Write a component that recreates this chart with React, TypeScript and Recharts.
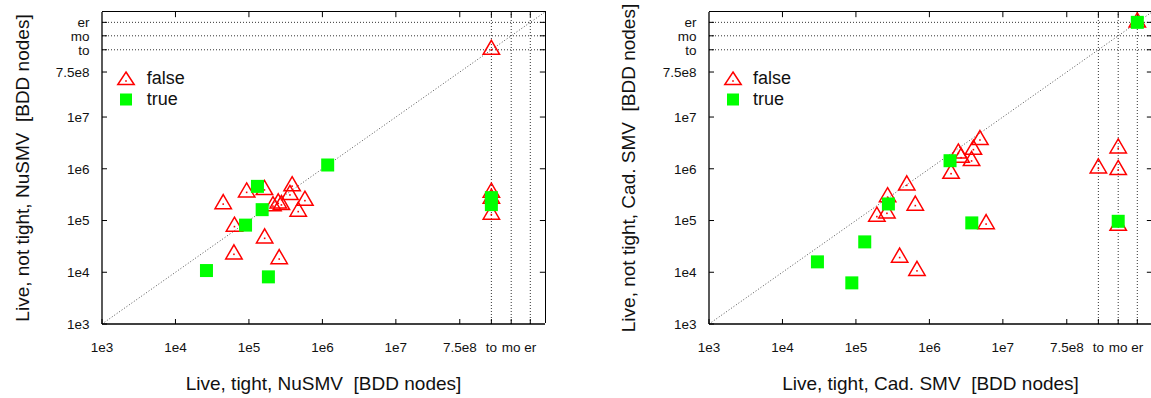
import React from 'react';
import { ScatterChart, Scatter, XAxis, YAxis, ReferenceLine, Legend } from 'recharts';

// Axis positions (log10 of BDD nodes; to / mo / er are special categories)
const TO = 8.3;
const MO = 8.57;
const ER = 8.83;
const AXIS_MIN = 3;
const AXIS_MAX = 9.03;
const tickValues = [3, 4, 5, 6, 7, 7.87, TO, MO, ER];
const tickLabels = ['1e3', '1e4', '1e5', '1e6', '1e7', '7.5e8', 'to', 'mo', 'er'];
const specialValues = [TO, MO, ER];
const innerTicks = [4, 5, 6, 7, 7.87, TO, MO, ER];

// Left plot: NuSMV (values = log10 BDD nodes)
const nusmvFalseX = [4.65, 4.969, 5.211, 5.588, 5.558, 5.762, 5.327, 5.399, 5.442, 5.671, 4.803, 5.214, 4.796, 5.412, TO, TO, TO, TO];
const nusmvFalseY = [5.317, 5.544, 5.591, 5.664, 5.494, 5.384, 5.278, 5.332, 5.301, 5.172, 4.882, 4.656, 4.347, 4.255, TO, 5.539, 5.423, 5.114];
const nusmvTrueX = [6.072, 5.116, 5.18, 4.954, 4.422, 5.265, TO, TO];
const nusmvTrueY = [6.073, 5.66, 5.21, 4.911, 4.033, 3.911, 5.442, 5.307];

// Right plot: Cadence SMV
const cadFalseX = [6.688, 6.599, 6.394, 6.431, 6.574, 6.295, 5.692, 5.431, 5.808, 5.285, 5.422, 6.772, 5.595, 5.831, TO, MO, MO, MO, ER];
const cadFalseY = [6.556, 6.369, 6.297, 6.214, 6.151, 5.905, 5.68, 5.452, 5.288, 5.075, 5.139, 4.931, 4.284, 4.027, 6.008, 6.394, 5.977, 4.9, ER];
const cadTrueX = [6.281, 5.442, 6.577, 5.12, 4.476, 4.944, MO, ER];
const cadTrueY = [6.156, 5.32, 4.954, 4.587, 4.201, 3.795, 4.985, ER];

const seriesNames = ['false', 'true'];

const FONT = '"Liberation Sans", Arial, Helvetica, sans-serif';
const RED = '#ff0000';
const GREEN = '#00ff00';
// tick stub length on mirrored borders, in axis units (~5px)
const TICK_LEN_X = 0.07;
const TICK_LEN_Y = 0.1;

const zip = (xs: number[], ys: number[]) => xs.map((x, i) => ({ x, y: ys[i] }));

const fmt = (v: number) => {
  const i = tickValues.findIndex((t) => Math.abs(t - v) < 1e-6);
  return i >= 0 ? tickLabels[i] : '';
};

const Triangle = (props: any) => {
  const { cx, cy } = props;
  if (cx == null || cy == null) return null;
  return (
    <g>
      <polygon
        points={`${cx},${cy - 9.5} ${cx + 8.2},${cy + 4.6} ${cx - 8.2},${cy + 4.6}`}
        fill="none"
        stroke={RED}
        strokeWidth={1.5}
      />
      <rect x={cx - 0.8} y={cy - 0.8} width={1.6} height={1.6} fill={RED} />
    </g>
  );
};

const Square = (props: any) => {
  const { cx, cy } = props;
  if (cx == null || cy == null) return null;
  return <rect x={cx - 6.5} y={cy - 6.5} width={13} height={13} fill={GREEN} />;
};

const makeLegend = (textGap: number) => (props: any) => {
  const payload = props.payload || [];
  return (
    <div style={{ fontFamily: FONT, fontSize: 18, color: '#111' }}>
      {payload.map((entry: any, i: number) => (
        <div key={i} style={{ display: 'flex', alignItems: 'center', height: 21, lineHeight: '21px' }}>
          <svg width={20} height={21} style={{ display: 'block' }}>
            {entry.value === 'false' ? (
              <g>
                <polygon points="10,4 18.2,16.5 1.8,16.5" fill="none" stroke={RED} strokeWidth={1.5} />
                <rect x={9.2} y={12.2} width={1.6} height={1.6} fill={RED} />
              </g>
            ) : (
              <rect x={4} y={4.5} width={12} height={12} fill={GREEN} />
            )}
          </svg>
          <span style={{ marginLeft: textGap }}>{entry.value}</span>
        </div>
      ))}
    </div>
  );
};

const YTitle = ({ cx, cy, text }: { cx: number; cy: number; text: string }) => (
  <text
    x={0}
    y={0}
    transform={`translate(${cx},${cy}) rotate(-90)`}
    textAnchor="middle"
    dy="0.36em"
    fontFamily={FONT}
    fontSize={19}
    fill="#111"
    style={{ whiteSpace: 'pre' }}
  >
    {text}
  </text>
);

const XTitle = ({ cx, cy, text }: { cx: number; cy: number; text: string }) => (
  <text
    x={cx}
    y={cy}
    textAnchor="middle"
    dy="0.36em"
    fontFamily={FONT}
    fontSize={19}
    fill="#111"
    style={{ whiteSpace: 'pre' }}
  >
    {text}
  </text>
);

type PlotProps = {
  width: number;
  rightMargin: number;
  yAxisWidth: number;
  falseX: number[];
  falseY: number[];
  trueX: number[];
  trueY: number[];
  xTitle: string;
  yTitle: string;
  yTitleX: number;
  legendLeft: number;
};

const tickStyle = { fontFamily: FONT, fontSize: 13.5, fill: '#111' };
const axisLineStyle = { stroke: '#000', strokeWidth: 1.3 };
const tickLineStyle = { stroke: '#000', strokeWidth: 1 };

const PLOT_TOP = 12;
const PLOT_BOTTOM = 324;

const Plot = (p: PlotProps) => {
  const plotLeft = p.yAxisWidth;
  const plotRight = p.width - p.rightMargin;
  const falseData = zip(p.falseX, p.falseY);
  const trueData = zip(p.trueX, p.trueY);
  return (
    <div style={{ position: 'relative', width: p.width, height: 398 }}>
      <ScatterChart width={p.width} height={398} margin={{ top: PLOT_TOP, right: p.rightMargin, bottom: 0, left: 0 }}>
        <XAxis
          dataKey="x"
          type="number"
          domain={[AXIS_MIN, AXIS_MAX]}
          ticks={tickValues}
          interval={0}
          allowDataOverflow
          height={74}
          tickFormatter={fmt}
          tick={tickStyle}
          tickSize={-5}
          tickMargin={23}
          axisLine={axisLineStyle}
          tickLine={tickLineStyle}
          label={() => <XTitle cx={(plotLeft + plotRight) / 2} cy={383} text={p.xTitle} />}
        />
        <YAxis
          dataKey="y"
          type="number"
          domain={[AXIS_MIN, AXIS_MAX]}
          ticks={tickValues}
          interval={0}
          allowDataOverflow
          width={p.yAxisWidth}
          tickFormatter={fmt}
          tick={tickStyle}
          tickSize={-5}
          tickMargin={17.5}
          axisLine={axisLineStyle}
          tickLine={tickLineStyle}
          label={() => <YTitle cx={p.yTitleX} cy={(PLOT_TOP + PLOT_BOTTOM) / 2} text={p.yTitle} />}
        />
        {specialValues.map((v) => (
          <ReferenceLine key={`vx${v}`} x={v} stroke="#333" strokeDasharray="1 2" strokeWidth={1} />
        ))}
        {specialValues.map((v) => (
          <ReferenceLine key={`hy${v}`} y={v} stroke="#333" strokeDasharray="1 2" strokeWidth={1} />
        ))}
        <ReferenceLine
          segment={[
            { x: AXIS_MIN, y: AXIS_MIN },
            { x: AXIS_MAX, y: AXIS_MAX },
          ]}
          stroke="#555"
          strokeDasharray="1 2"
          strokeWidth={1}
        />
        {innerTicks.map((t) => (
          <ReferenceLine
            key={`tt${t}`}
            segment={[
              { x: t, y: AXIS_MAX },
              { x: t, y: AXIS_MAX - TICK_LEN_Y },
            ]}
            stroke="#000"
            strokeWidth={1}
            ifOverflow="visible"
          />
        ))}
        {innerTicks.map((t) => (
          <ReferenceLine
            key={`rt${t}`}
            segment={[
              { x: AXIS_MAX, y: t },
              { x: AXIS_MAX - TICK_LEN_X, y: t },
            ]}
            stroke="#000"
            strokeWidth={1}
            ifOverflow="visible"
          />
        ))}
        <Scatter name={seriesNames[0]} data={falseData} shape={Triangle} isAnimationActive={false} />
        <Scatter name={seriesNames[1]} data={trueData} shape={Square} isAnimationActive={false} />
        <Legend
          layout="vertical"
          align="center"
          verticalAlign="middle"
          content={makeLegend(p.legendLeft >= 140 ? 10 : 10.7)}
          wrapperStyle={{ position: 'absolute', left: p.legendLeft, top: 67.5, width: 'auto', height: 'auto' }}
        />
      </ScatterChart>
      {/* top and right border of the plot frame */}
      <div
        style={{
          position: 'absolute',
          left: plotLeft,
          top: PLOT_TOP - 0.6,
          width: plotRight - plotLeft + 0.6,
          height: PLOT_BOTTOM - PLOT_TOP,
          borderTop: '1.3px solid #000',
          borderRight: '1.3px solid #000',
          boxSizing: 'border-box',
          pointerEvents: 'none',
        }}
      />
    </div>
  );
};

export default function App() {
  return (
    <div
      style={{
        position: 'absolute',
        left: 0,
        top: 0,
        width: 1151,
        height: 398,
        overflow: 'hidden',
        background: '#fff',
      }}
    >
      <div style={{ position: 'absolute', left: 0, top: 0 }}>
        <Plot
          width={575}
          rightMargin={30}
          yAxisWidth={102}
          falseX={nusmvFalseX}
          falseY={nusmvFalseY}
          trueX={nusmvTrueX}
          trueY={nusmvTrueY}
          xTitle="Live, tight, NuSMV  [BDD nodes]"
          yTitle="Live, not tight, NuSMV  [BDD nodes]"
          yTitleX={22}
          legendLeft={116}
        />
      </div>
      <div style={{ position: 'absolute', left: 575, top: 0 }}>
        <Plot
          width={577}
          rightMargin={0}
          yAxisWidth={134}
          falseX={cadFalseX}
          falseY={cadFalseY}
          trueX={cadTrueX}
          trueY={cadTrueY}
          xTitle="Live, tight, Cad. SMV  [BDD nodes]"
          yTitle="Live, not tight, Cad. SMV  [BDD nodes]"
          yTitleX={53.5}
          legendLeft={148}
        />
      </div>
    </div>
  );
}
